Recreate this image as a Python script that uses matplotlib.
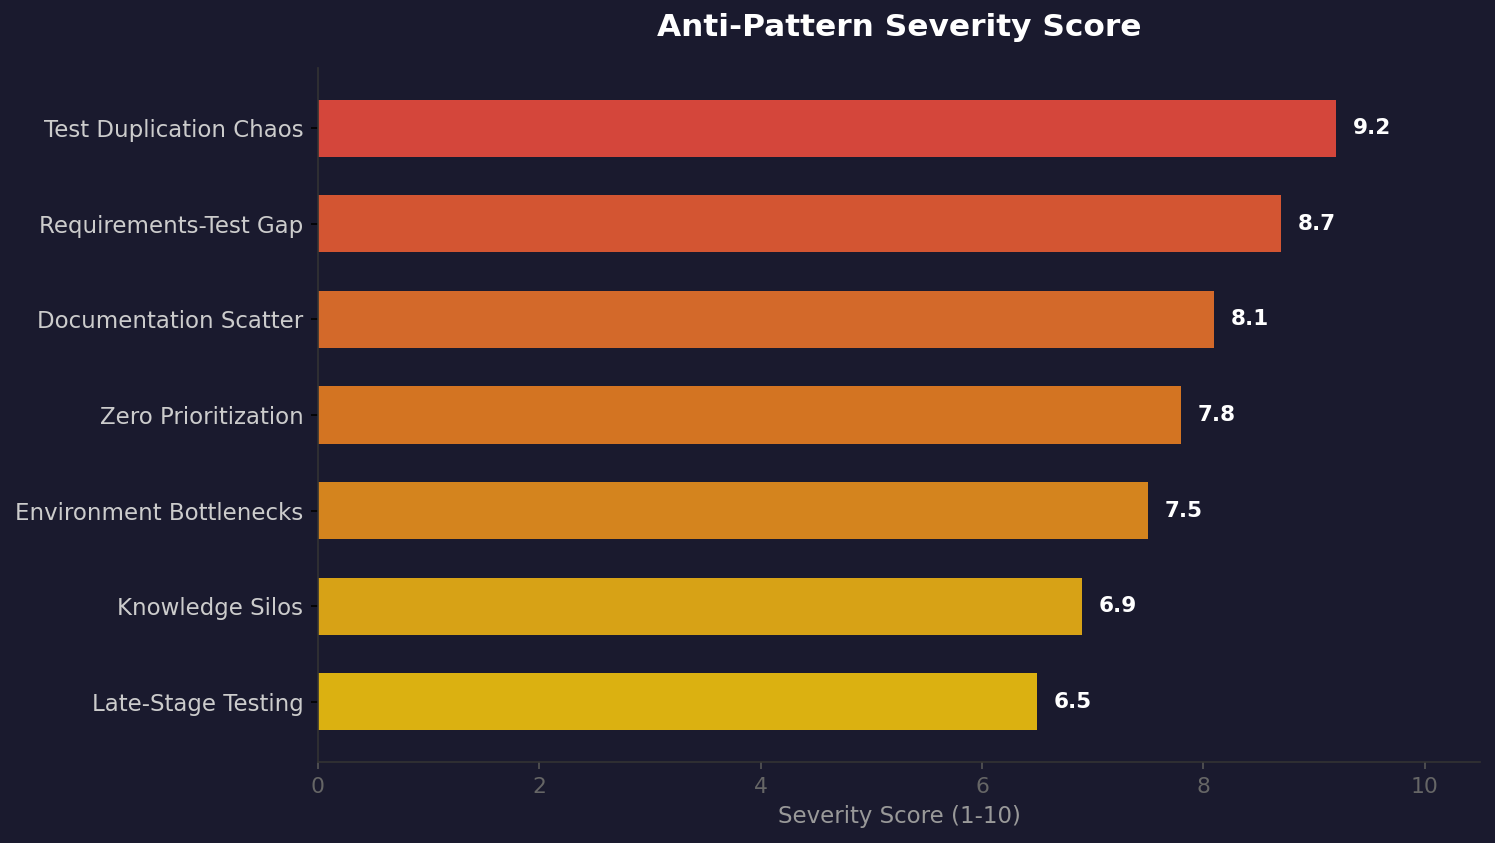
import matplotlib
matplotlib.use("Agg")
import matplotlib.pyplot as plt

# data (top to bottom in the chart)
patterns = [
    "Test Duplication Chaos",
    "Requirements-Test Gap",
    "Documentation Scatter",
    "Zero Prioritization",
    "Environment Bottlenecks",
    "Knowledge Silos",
    "Late-Stage Testing",
]
scores = [9.2, 8.7, 8.1, 7.8, 7.5, 6.9, 6.5]
bar_colors = ["#d4463b", "#d35532", "#d3692a", "#d37422", "#d4841e", "#d7a216", "#dbb111"]

bg = "#1a1a2e"

fig = plt.figure(figsize=(1495 / 150, 843 / 150), dpi=150, facecolor=bg)
ax = fig.add_axes([318 / 1495, 1 - 762 / 843, (1480 - 318) / 1495, (762 - 68) / 843])
ax.set_facecolor(bg)

# reverse so the first item sits on top
ypos = list(range(len(patterns)))[::-1]
ax.barh(ypos, scores, height=0.6, color=bar_colors)

for y, s in zip(ypos, scores):
    ax.text(s + 0.15, y, f"{s}", va="center", ha="left",
            color="white", fontsize=10.3, fontweight="bold")

ax.set_yticks(ypos)
ax.set_yticklabels(patterns, fontsize=11, color="#cccccc")
ax.tick_params(axis="y", colors="black", labelcolor="#cccccc")
ax.tick_params(axis="x", colors="#555555", labelcolor="#666666", labelsize=10.5)

ax.set_xlim(0, 10.5)
ax.set_xlabel("Severity Score (1-10)", fontsize=11, color="#999999", labelpad=4)

for side in ["top", "right"]:
    ax.spines[side].set_visible(False)
for side in ["left", "bottom"]:
    ax.spines[side].set_color("#333333")

fig.text(899 / 1495, 1 - 28 / 843, "Anti-Pattern Severity Score", ha="center", va="center",
         color="white", fontsize=15, fontweight="bold")

fig.savefig("out.png", dpi=150, facecolor=bg)
